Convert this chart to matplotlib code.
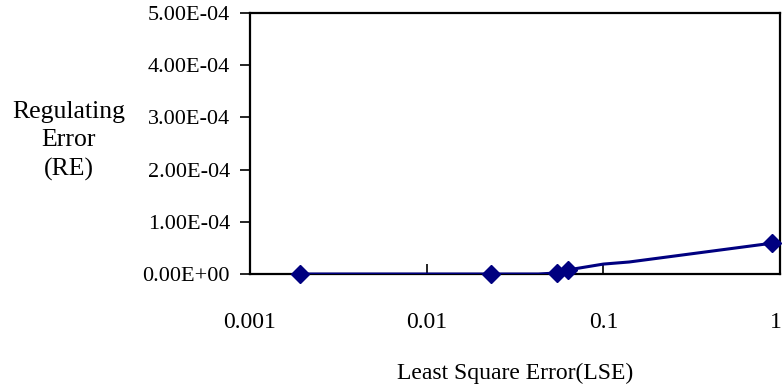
import matplotlib
matplotlib.use("Agg")
import matplotlib.pyplot as plt
import matplotlib.transforms as mtransforms
from matplotlib.ticker import FixedLocator, FuncFormatter

# least square error (x) vs regulating error (y)
lse_line = [0.00192, 0.0232, 0.043, 0.0546, 0.0635, 0.10, 0.14, 0.90]
re_line = [0.0, 0.0, 0.0, 2.0e-6, 8.0e-6, 1.9e-5, 2.3e-5, 5.9e-5]
# points that carry a marker
lse_pts = [0.00192, 0.0232, 0.0546, 0.0635, 0.90]
re_pts = [0.0, 0.0, 2.0e-6, 8.0e-6, 5.9e-5]

x_ticks = [0.001, 0.01, 0.1, 1]
x_tick_labels = ["0.001", "0.01", "0.1", "1"]
y_ticks = [0, 1e-4, 2e-4, 3e-4, 4e-4, 5e-4]

plt.rcParams['font.family'] = ['Liberation Serif', 'DejaVu Serif']

fig = plt.figure(figsize=(7.84, 3.91), dpi=100)
ax = fig.add_axes([250 / 784, 1 - 274 / 391, 530 / 784, 261 / 391])

navy = "#000080"
ax.plot(lse_line, re_line, color=navy, lw=2.2, zorder=3)
ax.plot(lse_pts, re_pts, ls="none", marker="D", ms=9.5, color=navy, zorder=4, clip_on=False)

ax.set_xscale("log")
ax.set_xlim(0.001, 1)
ax.set_ylim(0, 5e-4)

ax.xaxis.set_major_locator(FixedLocator(x_ticks))
ax.xaxis.set_minor_locator(FixedLocator([]))
ax.set_xticks(x_ticks)
ax.set_xticklabels(x_tick_labels)
ax.set_yticks(y_ticks)
ax.yaxis.set_major_formatter(FuncFormatter(lambda v, p: "%.2E" % v))

ax.tick_params(axis="x", direction="in", length=7, width=1.2, pad=27, labelsize=17)
ax.tick_params(axis="y", direction="out", length=7, width=1.2, pad=7.5, labelsize=16)

# nudge the "1" label left so it stays inside the figure
last = ax.get_xticklabels()[-1]
last.set_transform(last.get_transform() + mtransforms.ScaledTranslation(-4 / 100, 0, fig.dpi_scale_trans))

for s in ax.spines.values():
    s.set_linewidth(1.6)

fig.text(69 / 784, 1 - 141 / 391, "Regulating\nError\n(RE)", ha="center", va="center",
         fontsize=18.5, linespacing=1.4)
fig.text(515 / 784, 1 - 373 / 391, "Least Square Error(LSE)", ha="center", va="center",
         fontsize=17)

fig.savefig("out.png", dpi=100)
